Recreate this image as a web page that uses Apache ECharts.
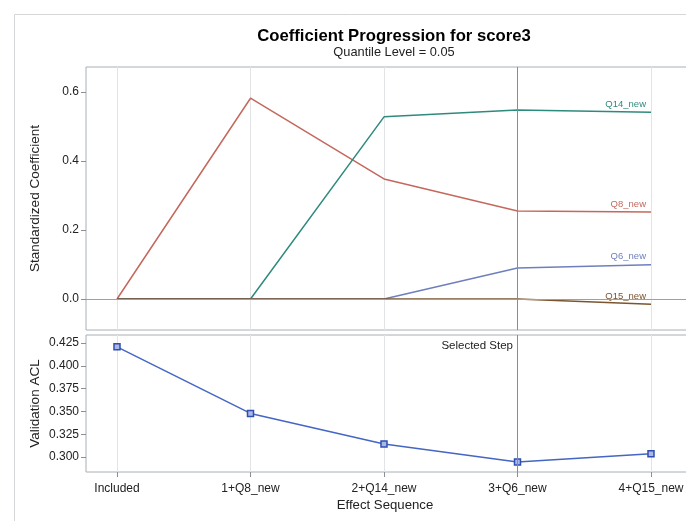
<!DOCTYPE html>
<html><head><meta charset="utf-8">
<script src="https://cdn.jsdelivr.net/npm/echarts@6/dist/echarts.min.js"></script>
<style>html,body{margin:0;padding:0;background:#fff}#c{width:686px;height:521px}</style>
</head><body><div id="c"></div>
<script>
const categories = ['Included','1+Q8_new','2+Q14_new','3+Q6_new','4+Q15_new'];
const q8 = [0, 0.582, 0.348, 0.255, 0.252];
const q14 = [0, 0, 0.528, 0.548, 0.541];
const q6 = [0, 0, 0, 0.090, 0.099];
const q15 = [0, 0, 0, 0, -0.015];
const acl = [0.4208, 0.3478, 0.3143, 0.2946, 0.3035];
const coefTicks = [0, 0.2, 0.4, 0.6];
const aclTicks = [0.300, 0.325, 0.350, 0.375, 0.400, 0.425];
const selectedStep = 3;

const FONT = '"Liberation Sans", Arial, sans-serif';
const xIdx = categories.map((c,i)=>i);
const pts = arr => arr.map((v,i)=>[i,v]);

function xAxisCfg(gi, showLabels){
  return {
    type:'value', gridIndex:gi, min:-0.2322, max:4.412,
    axisLine:{show:false, onZero:false},
    axisTick:{show:showLabels, customValues:xIdx, length:5, lineStyle:{color:'#8a9096'}},
    axisLabel:{show:showLabels, customValues:xIdx, formatter:v=>categories[Math.round(v)]||'', color:'#222', fontFamily:FONT, fontSize:12, margin:11},
    splitLine:{show:true, lineStyle:{color:'#e2e4e6', width:1}}
  };
}
function lineSeries(name, data, color){
  return {
    name, type:'line', xAxisIndex:0, yAxisIndex:0, data:pts(data),
    symbol:'none', lineStyle:{color, width:1.5}, itemStyle:{color}, silent:true, animation:false,
    endLabel:{show:true, formatter:name, align:'right', verticalAlign:'bottom', distance:0, offset:[-5,-3], color, fontFamily:FONT, fontSize:9.5}
  };
}

const chart = echarts.init(document.getElementById('c'), null, {renderer:'canvas'});
chart.setOption({
  animation:false,
  backgroundColor:'#fff',
  graphic:[
    {type:'rect', shape:{x:14.5,y:14.5,width:700,height:520}, style:{fill:'none', stroke:'#d4d6d8', lineWidth:1}, z:-10},
    {type:'text', style:{x:394,y:36,text:'Coefficient Progression for score3', font:'bold 16.7px '+FONT, fill:'#000', align:'center', verticalAlign:'middle'}},
    {type:'text', style:{x:394,y:52.5,text:'Quantile Level = 0.05', font:'12.8px '+FONT, fill:'#222', align:'center', verticalAlign:'middle'}},
    {type:'text', style:{x:385,y:505,text:'Effect Sequence', font:'13.2px '+FONT, fill:'#222', align:'center', verticalAlign:'middle'}}
  ],
  grid:[
    {left:86, top:67, width:620, height:263, outerBoundsMode:'none', show:true, borderColor:'#a9b0b6', borderWidth:1, backgroundColor:'transparent'},
    {left:86, top:335, width:620, height:137, outerBoundsMode:'none', show:true, borderColor:'#a9b0b6', borderWidth:1, backgroundColor:'transparent'}
  ],
  xAxis:[xAxisCfg(0,false), xAxisCfg(1,true)],
  yAxis:[
    {type:'value', gridIndex:0, min:-0.0899, max:0.6725,
     name:'Standardized Coefficient', nameLocation:'middle', nameGap:44, nameMoveOverlap:false, nameTextStyle:{fontFamily:FONT, fontSize:13.5, color:'#222'},
     axisLine:{show:false, onZero:false}, axisTick:{show:true, customValues:coefTicks, length:5, lineStyle:{color:'#8a9096'}},
     axisLabel:{customValues:coefTicks, formatter:v=>v.toFixed(1), color:'#222', fontFamily:FONT, fontSize:12, margin:7},
     splitLine:{show:false}},
    {type:'value', gridIndex:1, min:0.2836, max:0.4338,
     name:'Validation ACL', nameLocation:'middle', nameGap:44, nameMoveOverlap:false, nameTextStyle:{fontFamily:FONT, fontSize:13.5, color:'#222'},
     axisLine:{show:false, onZero:false}, axisTick:{show:true, customValues:aclTicks, length:5, lineStyle:{color:'#8a9096'}},
     axisLabel:{customValues:aclTicks, formatter:v=>v.toFixed(3), color:'#222', fontFamily:FONT, fontSize:12, margin:7},
     splitLine:{show:false}}
  ],
  series:[
    Object.assign(lineSeries('Q8_new', q8, '#c4685d'), {
      markLine:{silent:true, symbol:'none', label:{show:false}, animation:false,
        data:[{yAxis:0, lineStyle:{color:'#a0a0a0', width:1, type:'solid'}}, {xAxis:selectedStep, lineStyle:{color:'#8c8c8c', width:1, type:'solid'}}]}
    }),
    lineSeries('Q14_new', q14, '#2f8a7e'),
    lineSeries('Q6_new', q6, '#6f7fbd'),
    lineSeries('Q15_new', q15, '#7a5530'),
    {name:'ACL', type:'line', xAxisIndex:1, yAxisIndex:1, data:pts(acl),
     symbol:'rect', symbolSize:6, lineStyle:{color:'#4466c4', width:1.5},
     itemStyle:{color:'#aab8e8', borderColor:'#2f4fb0', borderWidth:1.5},
     markLine:{silent:true, symbol:'none', animation:false, label:{show:false},
       data:[{xAxis:selectedStep, lineStyle:{color:'#8c8c8c', width:1, type:'solid'}}]},
     markPoint:{silent:true, animation:false, symbol:'rect', symbolSize:[1,1], itemStyle:{color:'rgba(0,0,0,0)'},
       data:[{coord:[selectedStep, 0.4338], label:{show:true, formatter:'Selected Step', position:'left', distance:4, offset:[0,11], color:'#222', fontFamily:FONT, fontSize:11.5}}]}}
  ]
});
</script></body></html>
